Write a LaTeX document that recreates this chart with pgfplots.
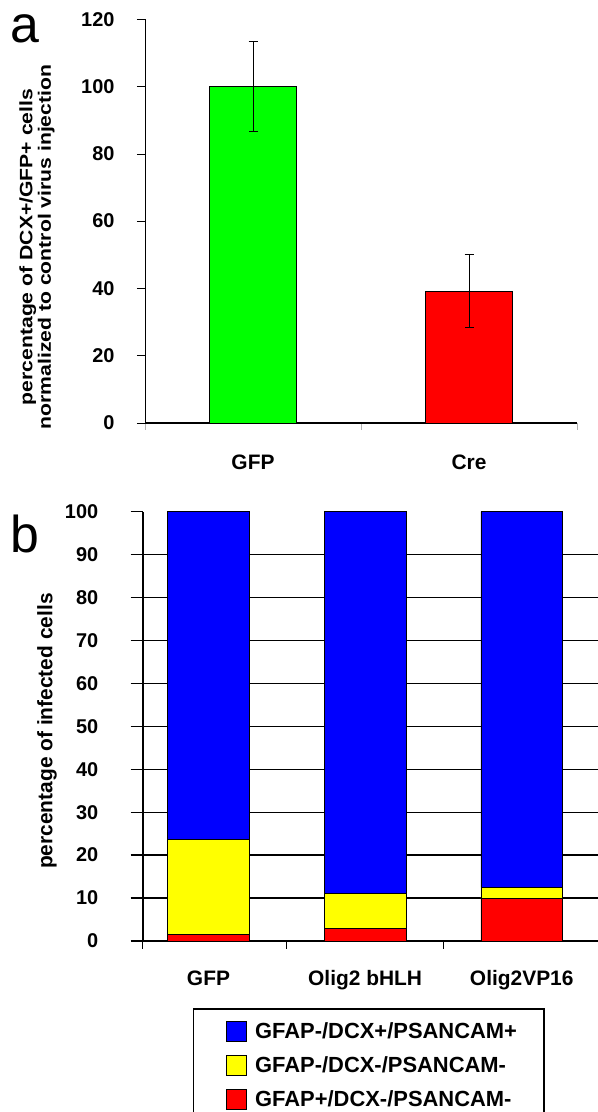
\documentclass[border=0pt]{standalone}
\usepackage{fontspec}
\setmainfont{Liberation Sans}
\usepackage{pgfplots}
\pgfplotsset{compat=1.18}
\definecolor{cgreen}{RGB}{0,255,0}
\definecolor{cred}{RGB}{255,0,0}
\definecolor{cblue}{RGB}{0,0,255}
\definecolor{cyellow}{RGB}{255,255,0}
\pgfplotsset{sq legend/.style={legend image code/.code={\path (-6bp,0bp) (28bp,0bp);\draw[##1,line width=0.6bp] (0bp,-10bp) rectangle (20bp,10bp);}}}
\newcommand{\lab}{\bfseries\fontsize{21}{20}\selectfont}
\newcommand{\laba}{\bfseries\fontsize{18}{18.5}\selectfont}
\newcommand{\leg}{\bfseries\fontsize{22}{22}\selectfont}
\newcommand{\tck}{\bfseries\fontsize{20}{24}\selectfont}
\begin{document}
\begin{tikzpicture}[x=1bp,y=1bp]
\useasboundingbox (0,0) rectangle (598,1112);
\node[anchor=base west,inner sep=0,font=\fontsize{52}{52}\selectfont] at (10,1069) {a};
\node[anchor=base west,inner sep=0,font=\fontsize{52}{52}\selectfont] at (10,559) {b};
% panel a
\begin{axis}[
  at={(145bp,689bp)}, anchor=south west,
  scale only axis, width=432bp, height=403.7bp,
  xmin=-0.5, xmax=1.5, ymin=0, ymax=120,
  axis x line=bottom, axis y line=left,
  axis line style={-},
  x axis line style={line width=1.8bp},
  y axis line style={line width=1bp},
  ytick={0,20,...,120},
  xtick={0,1}, xticklabels={GFP,Cre},
  minor xtick={-0.5,0.5,1.5},
  every major x tick/.append style={draw=none},
  every minor x tick/.append style={gray!60},
  tick align=outside,
  major tick length=8bp, minor tick length=7bp,
  tick style={black,line width=0.6bp},
  yticklabel style={font=\tck, xshift=-19bp},
  xticklabel style={font=\lab, yshift=-20bp},
  /pgf/number format/assume math mode=true,
  ylabel={percentage of DCX+/GFP+ cells\\normalized to control virus injection},
  ylabel style={font=\laba, align=center, at={(axis description cs:-0.25,0.436)}, anchor=center, xscale=1.18},
]
\addplot[ybar, bar shift=0pt, bar width=87bp, fill=cgreen, draw=black, line width=0.8bp,
  error bars/.cd, y dir=both, y explicit,
  error bar style={line width=0.6bp, black},
  error mark options={rotate=90, mark size=4.5bp, line width=0.6bp, black}]
  coordinates {(0,100) +- (0,13.4)};
\addplot[ybar, bar shift=0pt, bar width=87bp, fill=cred, draw=black, line width=0.8bp,
  error bars/.cd, y dir=both, y explicit,
  error bar style={line width=0.6bp, black},
  error mark options={rotate=90, mark size=4.5bp, line width=0.6bp, black}]
  coordinates {(1,39.2) +- (0,10.9)};
\end{axis}
% panel b
\begin{axis}[
  at={(142.7bp,171bp)}, anchor=south west,
  scale only axis, width=455.3bp, height=429.3bp,
  xmin=-0.42, xmax=2.487, ymin=0, ymax=100,
  axis x line=bottom, axis y line=left,
  axis line style={-, line width=1.8bp},
  ybar stacked, bar width=81.6bp,
  ytick={0,10,...,90}, extra y ticks={100}, extra y tick style={grid=none},
  ymajorgrids, major grid style={black, line width=1.4bp},
  xtick={0,1,2}, xticklabels={GFP,Olig2 bHLH,Olig2VP16},
  minor xtick={-0.42,0.5,1.5},
  every major x tick/.append style={draw=none},
  tick align=outside,
  major tick length=12bp, minor tick length=8bp,
  tick style={black,line width=1.4bp},
  yticklabel style={font=\tck, xshift=-29bp},
  xticklabel style={font=\lab, yshift=-14bp},
  /pgf/number format/assume math mode=true,
  ylabel={percentage of infected cells},
  ylabel style={font=\lab, at={(axis description cs:-0.21,0.489)}, anchor=center},
  legend style={at={(0.1098,-0.1568)}, anchor=north west, draw=black, line width=1.3bp,
    font=\leg, inner xsep=27bp, inner ysep=12bp, row sep=13.5bp,
    nodes={inner sep=0pt}, cells={anchor=west}},
  reverse legend,
]
\addplot[fill=cred, draw=black, line width=0.8bp, sq legend] coordinates {(0,1.6) (1,3.0) (2,10.0)};
\addplot[fill=cyellow, draw=black, line width=0.8bp, sq legend] coordinates {(0,22.0) (1,8.1) (2,2.5)};
\addplot[fill=cblue, draw=black, line width=0.8bp, sq legend] coordinates {(0,76.4) (1,88.9) (2,87.5)};
\legend{GFAP+/DCX-/PSANCAM-,GFAP-/DCX-/PSANCAM-,GFAP-/DCX+/PSANCAM+}
\end{axis}
\end{tikzpicture}
\end{document}
